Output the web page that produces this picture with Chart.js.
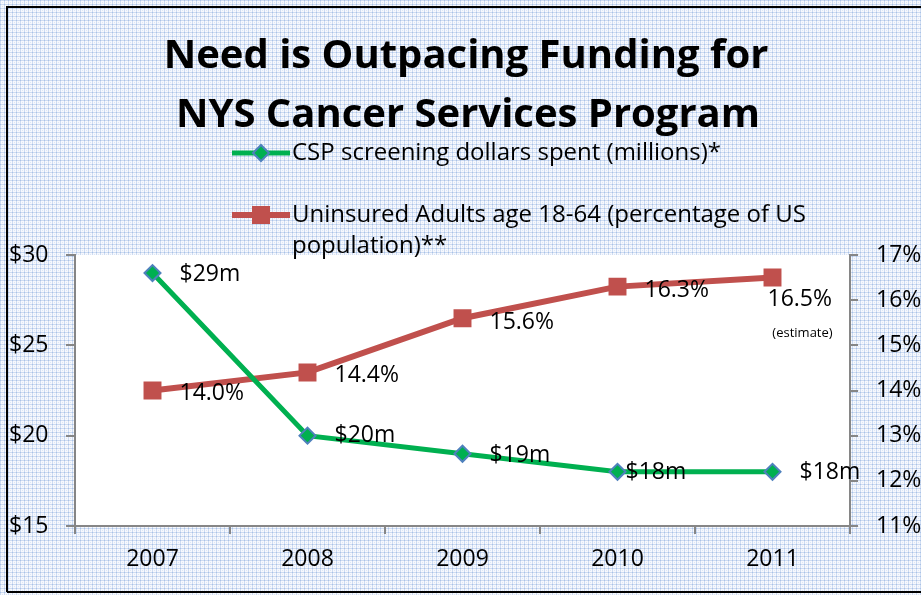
<!DOCTYPE html>
<html>
<head>
<meta charset="utf-8">
<title>Need is Outpacing Funding for NYS Cancer Services Program</title>
<script src="https://cdn.jsdelivr.net/npm/chart.js@4.4.0/dist/chart.umd.min.js"></script>
<style>
  html, body { margin: 0; padding: 0; background: #fff; }
  canvas { display: block; }
</style>
</head>
<body>
<canvas id="mycanvas" width="921" height="595"></canvas>
<script>
// chart data
var years = ['2007', '2008', '2009', '2010', '2011'];
var cspDollars = [29, 20, 19, 18, 18];
var uninsuredPct = [14.0, 14.4, 15.6, 16.3, 16.5];
var cspLabels = ['$29m', '$20m', '$19m', '$18m', '$18m'];
var uninsuredLabels = ['14.0%', '14.4%', '15.6%', '16.3%', '16.5%'];
var dollarTicks = [15, 20, 25, 30];
var pctTicks = [11, 12, 13, 14, 15, 16, 17];
var titleLines = ['Need is Outpacing Funding for', 'NYS Cancer Services Program'];
var legendCsp = ['CSP screening dollars spent (millions)*'];
var legendUninsured = ['Uninsured Adults age 18-64 (percentage of US', 'population)**'];
var estimateNote = '(estimate)';

var green = '#00b050';
var red = '#c0504d';
var axisGray = '#868686';
var fontName = '"Open Sans"';

// label offsets from each point (px)
var cspOffsets = [[27, 1], [27, 0], [27, 2], [8, 1], [27, 1]];
var pctOffsets = [[27, 3], [27, 3], [27, 4], [27, 4], [-5, 22]];

function makePattern(ctx) {
    var tile = document.createElement('canvas');
    tile.width = 4;
    tile.height = 4;
    var t = tile.getContext('2d');
    t.fillStyle = '#f6f8fd';
    t.fillRect(0, 0, 4, 4);
    t.fillStyle = '#cddbf1';
    t.fillRect(0, 0, 4, 1);
    t.fillRect(0, 0, 1, 4);
    t.fillStyle = '#a9c2e7';
    t.fillRect(0, 0, 1, 1);
    t.fillStyle = '#dde7f6';
    t.fillRect(2, 2, 1, 1);
    return ctx.createPattern(tile, 'repeat');
}

var backdrop = {
    id: 'backdrop',
    beforeDraw: function (chart) {
        var ctx = chart.ctx;
        var a = chart.chartArea;
        ctx.save();
        ctx.fillStyle = makePattern(ctx);
        ctx.fillRect(0, 0, chart.width, chart.height);
        // frame
        ctx.strokeStyle = '#000';
        ctx.lineWidth = 2;
        ctx.beginPath();
        ctx.moveTo(7, chart.height - 3);
        ctx.lineTo(7, 7);
        ctx.lineTo(chart.width, 7);
        ctx.moveTo(7, chart.height - 3);
        ctx.lineTo(chart.width, chart.height - 3);
        ctx.stroke();
        // plot area
        ctx.fillStyle = '#fff';
        ctx.fillRect(a.left, a.top, a.right - a.left, a.bottom - a.top);
        ctx.restore();
    }
};

var decorations = {
    id: 'decorations',
    afterDraw: function (chart) {
        var ctx = chart.ctx;
        ctx.save();
        ctx.fillStyle = '#000';
        ctx.textBaseline = 'middle';

        // title
        ctx.textAlign = 'center';
        ctx.font = 'bold 40px ' + fontName;
        ctx.fillText(titleLines[0], 466, 57);
        ctx.fillText(titleLines[1], 468, 116);

        // legend
        ctx.textAlign = 'left';
        ctx.font = '24px ' + fontName;
        ctx.lineWidth = 5;
        ctx.strokeStyle = green;
        ctx.beginPath();
        ctx.moveTo(232, 153);
        ctx.lineTo(290, 153);
        ctx.stroke();
        ctx.fillStyle = green;
        ctx.strokeStyle = '#4f81bd';
        ctx.lineWidth = 2;
        ctx.beginPath();
        ctx.moveTo(253, 153);
        ctx.lineTo(261, 145);
        ctx.lineTo(269, 153);
        ctx.lineTo(261, 161);
        ctx.closePath();
        ctx.fill();
        ctx.stroke();

        ctx.lineWidth = 6;
        ctx.strokeStyle = red;
        ctx.beginPath();
        ctx.moveTo(232, 215);
        ctx.lineTo(290, 215);
        ctx.stroke();
        ctx.fillStyle = red;
        ctx.fillRect(252, 206, 18, 18);

        ctx.fillStyle = '#000';
        ctx.fillText(legendCsp[0], 292, 153);
        ctx.fillText(legendUninsured[0], 292, 215);
        ctx.fillText(legendUninsured[1], 292, 246);

        // data labels
        ctx.font = '23px ' + fontName;
        var m0 = chart.getDatasetMeta(0);
        var m1 = chart.getDatasetMeta(1);
        m0.data.forEach(function (pt, i) {
            ctx.fillText(cspLabels[i], pt.x + cspOffsets[i][0], pt.y + cspOffsets[i][1]);
        });
        m1.data.forEach(function (pt, i) {
            ctx.fillText(uninsuredLabels[i], pt.x + pctOffsets[i][0], pt.y + pctOffsets[i][1]);
        });
        var last = m1.data[m1.data.length - 1];
        ctx.textAlign = 'center';
        ctx.font = '13px ' + fontName;
        ctx.fillText(estimateNote, last.x + 30, last.y + 56);
        ctx.restore();
    }
};

var ctx = document.getElementById('mycanvas');

var chartdata = {
    labels: years,
    datasets: [
        {
            label: legendCsp[0],
            data: cspDollars,
            yAxisID: 'y',
            borderColor: green,
            backgroundColor: green,
            borderWidth: 5,
            pointStyle: 'rectRot',
            pointRadius: 8,
            pointBorderColor: '#4f81bd',
            pointBorderWidth: 2,
            pointBackgroundColor: green,
            tension: 0
        },
        {
            label: legendUninsured.join(' '),
            data: uninsuredPct,
            yAxisID: 'y1',
            borderColor: red,
            backgroundColor: red,
            borderWidth: 6,
            pointStyle: 'rect',
            pointRadius: 12.7,
            pointBorderWidth: 0,
            pointBackgroundColor: red,
            tension: 0
        }
    ]
};

var tickFont = { family: fontName, size: 23 };

var lineGraph = new Chart(ctx, {
    type: 'line',
    data: chartdata,
    options: {
        responsive: false,
        animation: false,
        events: [],
        layout: { padding: { left: 9, right: 0, top: 255, bottom: 0 } },
        plugins: {
            legend: { display: false },
            title: { display: false },
            tooltip: { enabled: false }
        },
        scales: {
            x: {
                offset: true,
                grid: { offset: true, drawOnChartArea: false, tickLength: 8, color: axisGray, lineWidth: 2 },
                border: { color: axisGray, width: 2 },
                ticks: { color: '#000', font: tickFont, padding: 12, maxRotation: 0 },
                afterFit: function (s) { s.height = 69; }
            },
            y: {
                position: 'left',
                min: 15,
                max: 30,
                afterBuildTicks: function (s) { s.ticks = dollarTicks.map(function (v) { return { value: v }; }); },
                grid: { drawOnChartArea: false, tickLength: 9, color: axisGray, lineWidth: 2 },
                border: { color: axisGray, width: 2 },
                ticks: { color: '#000', font: tickFont, crossAlign: 'far', callback: function (v) { return '$' + v; } },
                afterFit: function (s) { s.width = 66; }
            },
            y1: {
                position: 'right',
                min: 11,
                max: 17,
                afterBuildTicks: function (s) { s.ticks = pctTicks.map(function (v) { return { value: v }; }); },
                grid: { drawOnChartArea: false, tickLength: 8, color: axisGray, lineWidth: 2 },
                border: { color: axisGray, width: 2 },
                ticks: { color: '#000', font: tickFont, padding: 18, callback: function (v) { return v + '%'; } },
                afterFit: function (s) { s.width = 71; }
            }
        }
    },
    plugins: [backdrop, decorations]
});
</script>
</body>
</html>
